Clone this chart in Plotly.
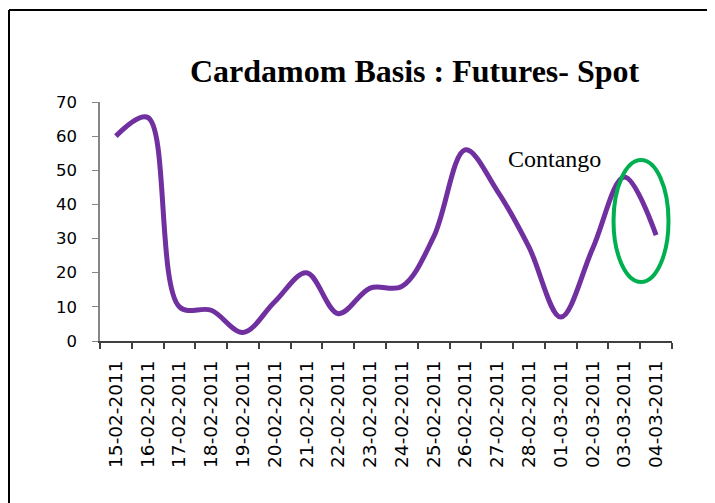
import plotly.graph_objects as go

dates = ["15-02-2011", "16-02-2011", "17-02-2011", "18-02-2011", "19-02-2011",
         "20-02-2011", "21-02-2011", "22-02-2011", "23-02-2011", "24-02-2011",
         "25-02-2011", "26-02-2011", "27-02-2011", "28-02-2011", "01-03-2011",
         "02-03-2011", "03-03-2011", "04-03-2011"]
basis = [60, 65.5, 10, 9, 2.5, 11.5, 20, 8, 15.5, 16, 30.5, 56, 44, 27.5, 7, 27, 48, 31]
y_ticks = [0, 10, 20, 30, 40, 50, 60, 70]

fig = go.Figure()
fig.add_trace(go.Scatter(
    x=dates, y=basis, mode="lines",
    line=dict(color="#7030A0", width=5, shape="spline", smoothing=1.0),
    showlegend=False, hoverinfo="skip",
))

OFF = 8  # default page body margin
W, H = 715 - OFF, 503 - OFF
ml, mr, mt, mb = 100 - OFF, 43, 102 - OFF, 162
pw, ph = W - ml - mr, H - mt - mb

def px(x):
    return (x - OFF - ml) / pw

def py(y):
    return (H - mb - (y - OFF)) / ph

fig.update_layout(
    width=W, height=H,
    margin=dict(l=ml, r=mr, t=mt, b=mb),
    paper_bgcolor="white", plot_bgcolor="white",
    xaxis=dict(
        type="category", range=[-0.5, len(dates) - 0.5],
        showgrid=False, zeroline=False,
        showline=True, linecolor="#404040", linewidth=2,
        ticks="outside", tickson="boundaries", ticklen=6, tickcolor="#404040", tickwidth=1.5,
        tickangle=-90, ticklabelstandoff=10,
        tickfont=dict(family="DejaVu Sans", size=18.5, color="black"),
    ),
    yaxis=dict(
        range=[0, 70], tickvals=y_ticks,
        showgrid=False, zeroline=False,
        showline=True, linecolor="#868686", linewidth=1.5,
        ticks="outside", ticklen=6, tickcolor="#868686",
        ticklabelstandoff=12,
        tickfont=dict(family="DejaVu Sans", size=16.5, color="black"),
    ),
    annotations=[
        dict(text="<b>Cardamom Basis : Futures- Spot</b>", xref="paper", yref="paper",
             x=px(415), y=py(71), xanchor="center", yanchor="middle", showarrow=False,
             font=dict(family="Liberation Serif", size=32, color="black")),
        dict(text="Contango", xref="x", yref="y", x=13.8, y=53.3,
             xanchor="center", yanchor="middle", showarrow=False,
             font=dict(family="Liberation Serif", size=24, color="black")),
    ],
    shapes=[
        dict(type="circle", xref="x", yref="y", x0=15.66, x1=17.39, y0=17.3, y1=53,
             line=dict(color="#00B050", width=4)),
        dict(type="line", xref="paper", yref="paper", x0=px(9), x1=px(9), y0=py(503), y1=py(10),
             line=dict(color="black", width=2)),
        dict(type="line", xref="paper", yref="paper", x0=px(9), x1=px(715), y0=py(10), y1=py(10),
             line=dict(color="black", width=2)),
    ],
)

fig.write_html("out.html")
